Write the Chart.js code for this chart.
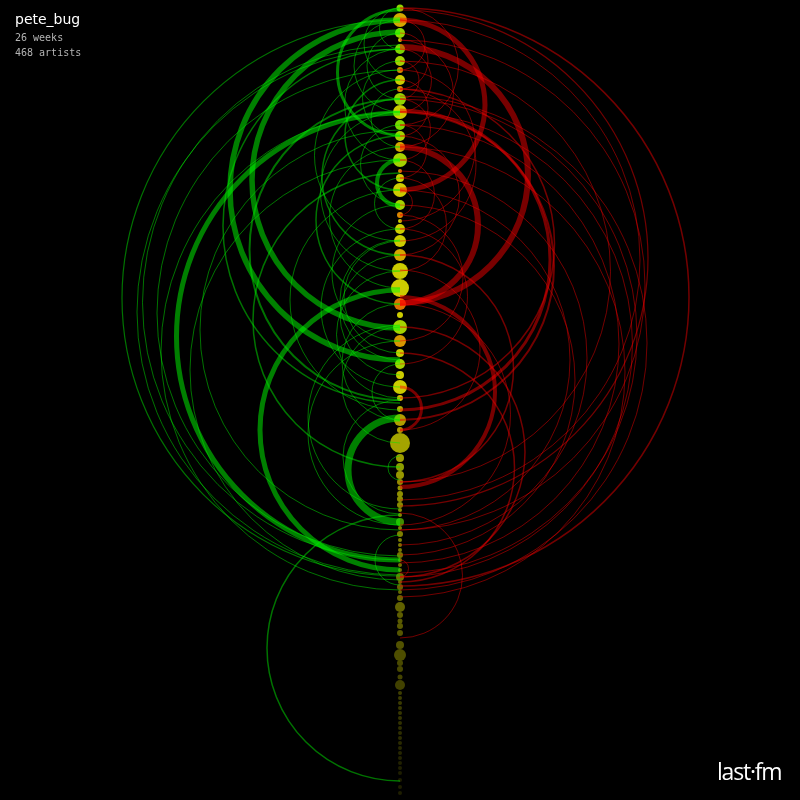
<!DOCTYPE html>
<html>
<head>
<meta charset="utf-8">
<script src="https://cdn.jsdelivr.net/npm/chart.js@4/dist/chart.umd.min.js"></script>
<style>
  html, body { margin: 0; padding: 0; background: #000; }
  #wrap { position: relative; width: 800px; height: 800px; background: #000; overflow: hidden; }
  canvas { position: absolute; left: 0; top: 0; }
  .t1 { position: absolute; left: 15px; top: 11px; color: #fff; font: 14px "DejaVu Sans", sans-serif; }
  .t2 { position: absolute; left: 15px; color: #b4b4b4; font: 10px "DejaVu Sans Mono", monospace; }
  .logo { position: absolute; left: 717px; top: 755px; color: #fff; font: 400 23px "Open Sans", "Noto Sans", sans-serif; letter-spacing: -1.2px; }
</style>
</head>
<body>
<div id="wrap">
  <canvas id="c" width="800" height="800"></canvas>
  <div class="t1">pete_bug</div>
  <div class="t2" style="top:32px">26 weeks</div>
  <div class="t2" style="top:47px">468 artists</div>
  <div class="logo">last·fm</div>
</div>
<script>
// ---- data ----
const userName = "pete_bug";
const weeksLabel = "26 weeks";
const artistsLabel = "468 artists";

// artist positions along the axis
const dotPos = [8,20,33,40,49,61,70,80,89,99,112,125,136,147,160,171,178,190,
  205,215,221,229,241,255,271,288,304,315,327,341,353,364,375,387,398,
  409,420,430,443,458,467,475,482,488,494,499,505,510,515,522,528,534,540,545,550,555,560,565,570,577,582,587,592,598,
  607,615,621,626,633,645,655,663,669,677,685,693,698,703,708,713,718,723,728,733,738,743,748,753,758,763,768,773,780,787,793];
// play counts (dot size)
const dotPlays = [3.5,7,5,2,5,5,3,5,3,6,7,5,5,5,7,2,4,7,
  5,3,2,5,6,6,8,9,6,3,7,6,4,5,4,7,3,
  3,6,3,10,4,4,4,3,2.5,3,3,3,2,2,4,2,3,2,2,2,3,2,2,2,4,2,3,2,3,
  5,3,2.5,3,3,4,6,3,3,2.5,5,2,2,2,2,2,2,2,2,2,2,2,2,2,2,2,2,2,2,2,2];
// trend (0 rising .. 1 falling)
const dotTrend = [0.2,0.7,0.2,0.5,0.1,0.3,0.9,0.5,0.9,0.2,0.5,0.1,0.3,0.7,0.3,0.9,0.5,0.5,
  0.3,0.9,0.5,0.5,0.5,0.7,0.5,0.5,1.0,0.5,0.3,0.8,0.5,0.3,0.5,0.5,0.6,
  0.5,0.6,0.6,0.5,0.5,0.4,0.5,0.6,0.5,0.5,0.5,0.5,0.5,0.5,0.0,0.5,0.5,0.5,0.5,0.5,0.5,0.5,0.5,0.5,0.5,0.5,0.6,0.5,0.5,
  0.5,0.5,0.5,0.5,0.5,0.5,0.5,0.5,0.5,0.5,0.5,0.5,0.5,0.5,0.5,0.5,0.5,0.5,0.5,0.5,0.5,0.5,0.5,0.5,0.5,0.5,0.5,0.5,0.5,0.5,0.5];

// rising arcs (left, green): from, to, weight
const riseFrom   = [32,20,113,290,418,160,10, 99,49,173,190,325,400,456,515,535,341, 20,45,49,70,112,130,160, 8,20,33,49,61,70,80,89,99,112,125,136,147,178,205,229,241,255,271,304,327,8,364,240];
const riseTo     = [328,360,560,570,522,206,135, 400,403,467,410,509,514,480,781,585,525, 576,560,575,556,590,530,580, 80,112,99,160,136,241,190,147,255,271,204,304,288,229,341,387,353,375,398,420,443,49,420,360];
const riseWeight = [5.5,5.5,5,5,7,4,3, 2,1.5,1.5,1,1,1,1,1.5,1,1, 1.2,1,1,1,1,1,1, 1,1,1,1,1,1,1.5,1,1.5,1,1,1.5,1,1,1,1,1,1,1,1,1,1,1,1];

// falling arcs (right, red): from, to, weight
const fallFrom   = [20,47,147,297,110,387, 8,10,20,40,96,99,112,125,61,147,171,190,205, 89,112,255,270,190,513,560,327,353,304, 20,33,49,61,80,99,125,40,70,89,136,160,178,8,215,229];
const fallTo     = [190,303,303,487,410,430, 586,506,500,530,590,573,577,563,482,597,545,530,555, 398,420,482,430,215,638,577,577,582,525, 70,89,112,99,136,160,178,147,221,241,255,229,271,125,341,364];
const fallWeight = [5,6,6,4,3,3, 1.5,1.2,1,1,1,1,1,1,1,1,1,1,1, 1.5,2,1.5,1,1,1,1,1.5,1.5,1, 1,1,1,1,1,1,1,1,1,1,1,1,1,1,1,1];

// ---- helpers ----
function trendColor(t, pos) {
  const g = [110,230,0], y = [215,215,0], o = [235,120,0];
  let c;
  if (t <= 0.5) { const k = t / 0.5; c = g.map((v, i) => v + (y[i] - v) * k); }
  else { const k = (t - 0.5) / 0.5; c = y.map((v, i) => v + (o[i] - v) * k); }
  const b = pos <= 405 ? 1 : Math.max(0.15, 0.85 - (pos - 420) / 500);
  return `rgba(${Math.round(c[0]*b)},${Math.round(c[1]*b)},${Math.round(c[2]*b)},0.95)`;
}

const arcPlugin = {
  id: 'arcs',
  afterDatasetsDraw(chart) {
    const ctx = chart.ctx, xs = chart.scales.x, ys = chart.scales.y;
    const cx = xs.getPixelForValue(0);
    ctx.save();
    function draw(from, to, w, left, thick, thin) {
      for (let i = 0; i < from.length; i++) {
        const a = ys.getPixelForValue(from[i]), b = ys.getPixelForValue(to[i]);
        const cy = (a + b) / 2, r = Math.abs(b - a) / 2;
        ctx.beginPath();
        if (left) ctx.arc(cx, cy, r, Math.PI / 2, 3 * Math.PI / 2);
        else ctx.arc(cx, cy, r, -Math.PI / 2, Math.PI / 2);
        ctx.lineWidth = w[i];
        ctx.strokeStyle = w[i] > 2.5 ? thick : thin;
        ctx.stroke();
      }
    }
    draw(riseFrom, riseTo, riseWeight, true, 'rgba(0,255,0,0.5)', 'rgba(0,230,0,0.5)');
    draw(fallFrom, fallTo, fallWeight, false, 'rgba(255,0,0,0.47)', 'rgba(230,0,0,0.5)');
    ctx.restore();
  }
};

const bubbles = dotPos.map((p, i) => ({ x: 0, y: p, r: dotPlays[i] }));

new Chart(document.getElementById('c'), {
  type: 'bubble',
  data: {
    datasets: [{
      data: bubbles,
      backgroundColor: dotPos.map((p, i) => trendColor(dotTrend[i], p)),
      borderWidth: 0,
      clip: false
    }]
  },
  options: {
    responsive: false,
    animation: false,
    devicePixelRatio: 1,
    layout: { padding: 0, autoPadding: false },
    plugins: { legend: { display: false }, tooltip: { enabled: false }, title: { display: false } },
    scales: {
      x: { type: 'linear', min: -400, max: 400, display: false },
      y: { type: 'linear', min: 0, max: 800, reverse: true, display: false }
    }
  },
  plugins: [arcPlugin]
});
</script>
</body>
</html>
